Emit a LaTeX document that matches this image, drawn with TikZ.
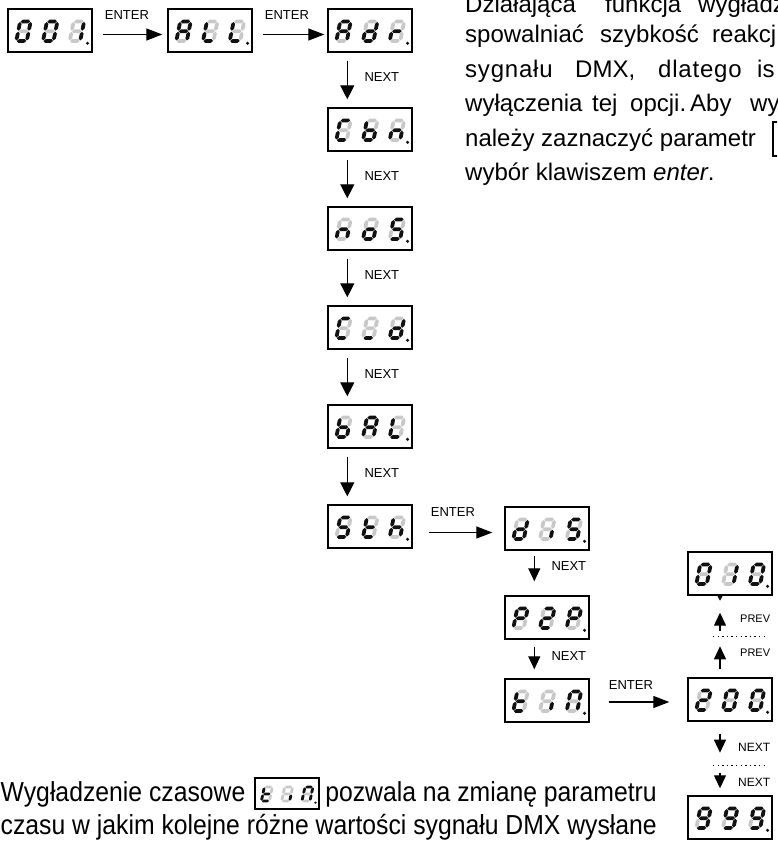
\documentclass[tikz,border=0pt]{standalone}
\usepackage{fontspec}
\setmainfont{Liberation Sans}
\newfontfamily\narrowfont[FakeStretch=0.9]{Liberation Sans}
\usetikzlibrary{arrows.meta,calc}
\definecolor{segon}{HTML}{111111}
\definecolor{segoff}{HTML}{C8C8C8}

\def\sW{10.5}\def\sH{19.5}\def\st{3.8}\def\sg{0.5}
\newcommand\hseg[4]{%
  \ifnum#1=1 \def\segc{segon}\else\def\segc{segoff}\fi
  \fill[\segc] (#2+\sg,#4) -- (#2+\sg+\st/2,#4-\st/2) -- (#3-\sg-\st/2,#4-\st/2) -- (#3-\sg,#4) -- (#3-\sg-\st/2,#4+\st/2) -- (#2+\sg+\st/2,#4+\st/2) -- cycle;}
\newcommand\vseg[4]{%
  \ifnum#1=1 \def\segc{segon}\else\def\segc{segoff}\fi
  \fill[\segc] (#2,#3+\sg) -- (#2+\st/2,#3+\sg+\st/2) -- (#2+\st/2,#4-\sg-\st/2) -- (#2,#4-\sg) -- (#2-\st/2,#4-\sg-\st/2) -- (#2-\st/2,#3+\sg+\st/2) -- cycle;}
\def\parsesegs#1#2#3#4#5#6#7\relax{%
  \hseg{#1}{0}{\sW}{-\sH}%
  \vseg{#2}{\sW}{-\sH}{-\sH/2}%
  \vseg{#3}{\sW}{-\sH/2}{0}%
  \hseg{#4}{0}{\sW}{0}%
  \vseg{#5}{0}{-\sH/2}{0}%
  \vseg{#6}{0}{-\sH}{-\sH/2}%
  \hseg{#7}{0}{\sW}{-\sH/2}}
\newcommand\segdigit[3]{%
  \begin{scope}[shift={(#1,#2)}, xslant=0.2]
    \expandafter\parsesegs#3\relax
  \end{scope}}
% segment patterns abcdefg
\def\sgZero{1111110}\def\sgOne{0110000}\def\sgTwo{1101101}\def\sgNine{1111011}
\def\sgA{1110111}\def\sgL{0001110}\def\sgd{0111101}\def\sgr{0000101}
\def\sgC{1001110}\def\sgb{0011111}\def\sgn{0010101}\def\sgo{0011101}
\def\sgS{1011011}\def\sgU{0001000}\def\sgt{0001111}\def\sgh{0010111}
\def\sgi{0010000}\def\sgP{1100111}\def\sgN{1110110}

\tikzset{
  dispbox/.style={draw=black, line width=1.4pt, minimum width=84pt, minimum height=43pt, inner sep=0pt},
  arrH/.style={line width=1.3pt, -{Triangle[length=16pt,width=12pt]}},
  arrV/.style={line width=1.3pt, -{Triangle[length=14pt,width=14pt]}},
  arrS/.style={line width=1.3pt, -{Triangle[length=13pt,width=12pt]}},
  lbl/.style={font=\fontsize{13}{13}\selectfont, inner sep=0pt, anchor=west},
  lbls/.style={font=\fontsize{12}{12}\selectfont, inner sep=0pt, anchor=west},
  lblp/.style={font=\fontsize{11}{11}\selectfont, inner sep=0pt, anchor=west},
  para/.style={font=\fontsize{24}{28}\selectfont, inner sep=0pt, anchor=base west},
  bottxt/.style={font=\narrowfont\fontsize{27.5}{30}\selectfont, inner sep=0pt, anchor=base west},
  dotline/.style={line width=1.3pt, dash pattern=on 1.3pt off 3.3pt},
}

\newcommand\disp[6]{%
  \begin{scope}[shift={#2}, #3]
    \node[dispbox] (#1) at (0,0) {};
    \segdigit{-33.7}{10.5}{#4}
    \segdigit{-7}{10.5}{#5}
    \segdigit{19.7}{10.5}{#6}
    \fill[segon] (37.5,12.8) circle[radius=1.7pt];
  \end{scope}}

\begin{document}
\begin{tikzpicture}[x=1pt,y=-1pt]
\useasboundingbox (0,0) rectangle (777,845);
\clip (0,0) rectangle (777,845);

% displays
\disp{b001}{(50,30.5)}{}{\sgZero}{\sgZero}{\sgOne}
\disp{ball}{(210,30.5)}{}{\sgA}{\sgL}{\sgL}
\disp{badr}{(370,30.5)}{}{\sgA}{\sgd}{\sgr}
\disp{bcbn}{(370,129.5)}{}{\sgC}{\sgb}{\sgn}
\disp{bnos}{(370,228.5)}{}{\sgn}{\sgo}{\sgS}
\disp{bcd}{(370,327.5)}{}{\sgC}{\sgU}{\sgd}
\disp{bbal}{(370,426.5)}{}{\sgb}{\sgA}{\sgL}
\disp{bsth}{(370,526.5)}{}{\sgS}{\sgt}{\sgh}
\disp{bdis}{(547,528.5)}{}{\sgd}{\sgi}{\sgS}
\disp{bptp}{(547,617.5)}{}{\sgP}{\sgTwo}{\sgP}
\disp{btin}{(547,700.5)}{}{\sgt}{\sgi}{\sgN}
\disp{bzoz}{(730,573.5)}{}{\sgZero}{\sgOne}{\sgZero}
\disp{btwo}{(730,699.5)}{}{\sgTwo}{\sgZero}{\sgZero}
\disp{bnine}{(730,817.5)}{}{\sgNine}{\sgNine}{\sgNine}
\disp{btinx}{(287,793.5)}{xscale=0.76,yscale=0.72,transform shape}{\sgt}{\sgi}{\sgN}

% top row arrows
\draw[arrH] ($(b001.east)+(10,4)$) -- ($(ball.west)+(-5,4)$);
\node[lbl] (e1) at ($(b001.east)+(12,-15)$) {ENTER};
\draw[arrH] ($(ball.east)+(10,4)$) -- ($(badr.west)+(-3,4)$);
\node[lbl] (e2) at ($(ball.east)+(12,-15)$) {ENTER};

% column arrows
\foreach \u/\v in {badr/bcbn, bcbn/bnos, bnos/bcd, bcd/bbal, bbal/bsth}{
  \draw[arrV] ($(\u.south west)+(20,8)$) -- ($(\v.north west)+(20,-8)$);
  \node[lbl] at ($(\u.south west)+(37,24)$) {NEXT};
}

% Sth -> dIS
\draw[arrH] ($(bsth.east)+(16,6)$) -- ($(bdis.west)+(-12,4)$);
\node[lbl] (e3) at ($(bsth.east)+(18,-14.5)$) {ENTER};

% dIS column
\draw[arrS] ($(bdis.south west)+(30,5)$) -- ($(bptp.north west)+(30,-14)$);
\node[lbl] at ($(bdis.south west)+(47,15)$) {NEXT};
\draw[arrS] ($(bptp.south west)+(30,7)$) -- ($(btin.north west)+(30,-9)$);
\node[lbl] at ($(bptp.south west)+(47,16)$) {NEXT};

% tin -> 200
\draw[arrH] ($(btin.east)+(19,1.5)$) -- ($(btwo.west)+(-18,2.5)$);
\node[lbl] (e4) at ($(btin.east)+(19,-15.5)$) {ENTER};

% right column
\fill[segon] ($(bzoz.south)+(-12.5,0.5)$) -- ++(5,0) -- ++(-2.5,4.5) -- cycle;
\draw[arrS] ($(bzoz.south)+(-10,35)$) -- ($(bzoz.south)+(-10,17)$);
\node[lblp] at ($(bzoz.south)+(10,23)$) {PREV};
\draw[dotline] ($(bzoz.south)+(-17,41)$) -- ($(bzoz.south)+(37,41)$);
\draw[arrS] ($(btwo.north)+(-10,-8)$) -- ($(btwo.north)+(-10,-31)$);
\node[lblp] at ($(btwo.north)+(10,-25)$) {PREV};
\draw[arrS] ($(btwo.south)+(-10,12)$) -- ($(btwo.south)+(-10,31)$);
\node[lbls] at ($(btwo.south)+(8,26)$) {NEXT};
\draw[dotline] ($(btwo.south)+(-17,44)$) -- ($(btwo.south)+(37,44)$);
\draw[arrS] ($(btwo.south)+(-10,51)$) -- ($(bnine.north)+(-10,-7)$);
\node[lbls] at ($(btwo.south)+(8,61)$) {NEXT};

% top-right paragraph (cropped)
\node[para] at (465,13) {Działająca};
\node[para] at (605,13) {funkcja};
\node[para] at (698,13) {wygładz};
\node[para] at (465,43) {spowalniać};
\node[para] at (600,43) {szybkość};
\node[para] at (712,43) {reakcj};
\node[para] at (465,78) {s\kern0.8pt y\kern0.8pt g\kern0.8pt n\kern0.8pt a\kern0.8pt ł\kern0.8pt u};
\node[para] at (575,78) {DMX,};
\node[para] at (658,78) {d\kern0.8pt l\kern0.8pt a\kern0.8pt t\kern0.8pt e\kern0.8pt g\kern0.8pt o};
\node[para] at (757,78) {is};
\node[para] at (465,112) {wyłączenia};
\node[para] at (592,112) {tej};
\node[para] at (630,112) {opcji.};
\node[para] at (690,112) {Aby};
\node[para] at (750,112) {wy};
\node[para] (pl5) at (465,147) {należy zaznaczyć parametr};
\node[dispbox, minimum width=40pt, minimum height=34pt] (pbox) at (793,139) {};
\node[para] at (465,181) {wybór klawiszem \textit{enter}.};

% bottom text
\node[bottxt] (bt1) at (0.5,801) {Wygładzenie czasowe};
\node[bottxt, anchor=base east] (bt2) at (657,801) {pozwala na zmianę parametru};
\node[bottxt] (bt3) at (0.5,834) {czasu w jakim kolejne różne wartości sygnału DMX wysłane};
\end{tikzpicture}
\end{document}
